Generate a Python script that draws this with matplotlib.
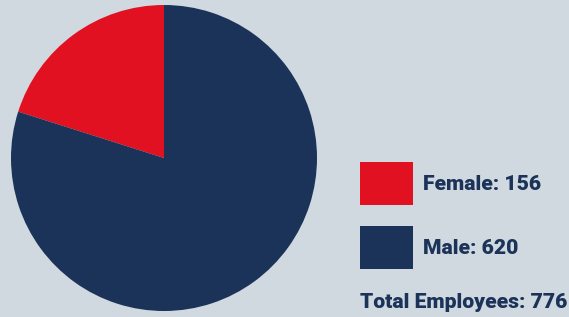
import matplotlib.pyplot as plt
from matplotlib.patches import Rectangle

labels = ['Female', 'Male']
counts = [156, 620]
colors = ['#E11122', '#1B3358']
bg = '#D0D8E0'
text_color = '#1B3358'

plt.rcParams['font.family'] = ['Roboto', 'DejaVu Sans']

W, H = 569, 317
fig = plt.figure(figsize=(W / 100, H / 100), dpi=100, facecolor=bg)

# pie axes, placed in pixel terms
cx, cy, r = 164, 158, 153
ax = fig.add_axes([(cx - r) / W, 1 - (cy + r) / H, 2 * r / W, 2 * r / H])
ax.pie(counts, colors=colors, startangle=90, counterclock=True,
       wedgeprops=dict(linewidth=0))
ax.set_aspect('auto')
ax.set_xlim(-1, 1)
ax.set_ylim(-1, 1)
ax.axis('off')

# legend overlay in pixel coordinates
lg = fig.add_axes([0, 0, 1, 1])
lg.set_xlim(0, W)
lg.set_ylim(H, 0)
lg.axis('off')
lg.patch.set_alpha(0)

box_tops = [162, 226]
for lab, n, c, top in zip(labels, counts, colors, box_tops):
    lg.add_patch(Rectangle((360, top), 53, 43, facecolor=c, edgecolor='none'))
    lg.text(423, top + 22, f'{lab}: {n}', fontsize=15.2, fontweight='black',
            color=text_color, va='center', ha='left')

lg.text(360, 303, f'Total Employees: {sum(counts)}', fontsize=15.2,
        fontweight='black', color=text_color, va='center', ha='left')

fig.savefig('out.png', dpi=100, facecolor=bg)
